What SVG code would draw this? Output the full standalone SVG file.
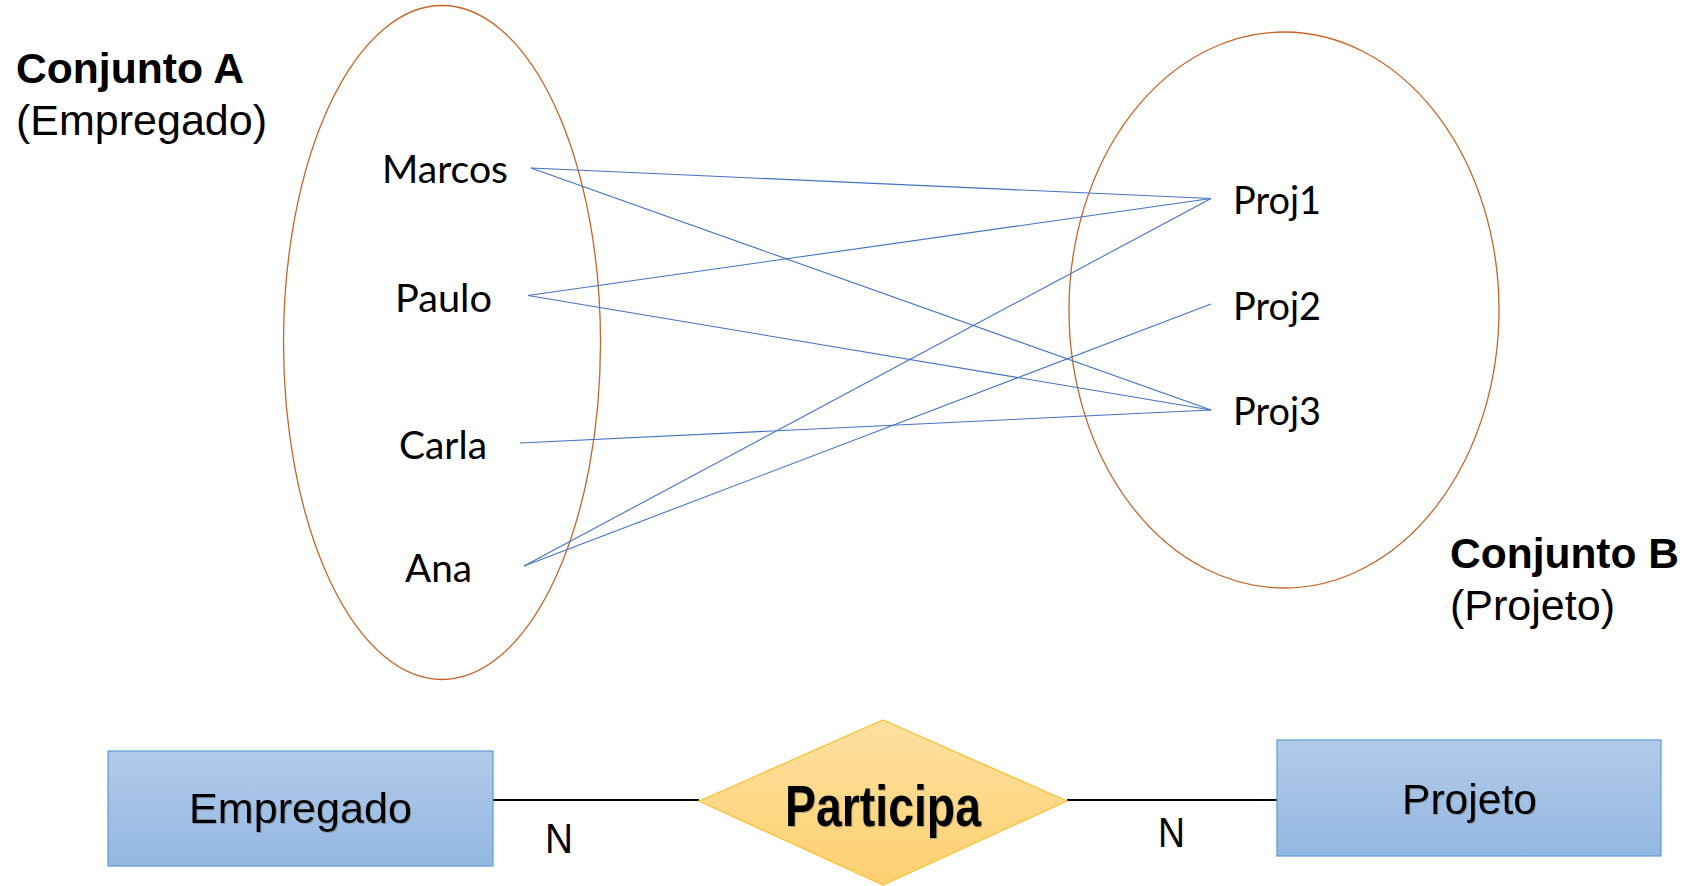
<svg xmlns="http://www.w3.org/2000/svg" width="1691" height="886" viewBox="0 0 1691 886">
<style>
.set{fill:none;stroke:#c8642a;stroke-width:1.3}
.lbl{font-family:"Liberation Sans",Arial,sans-serif;font-size:43px;fill:#000}
.b{font-weight:bold}
.el{font-family:Lato,"Open Sans",sans-serif;font-size:38px;fill:#000}
.link{stroke:#4472c4;stroke-width:1.1;fill:none}
.rel{stroke:#000;stroke-width:2;fill:none}
.ent{fill:url(#gBlue);stroke:#5b9bd5;stroke-width:1.2}
.er{font-family:"Liberation Sans",Arial,sans-serif;font-size:43px;fill:#000}
</style>
<defs>
<linearGradient id="gBlue" x1="0" y1="0" x2="0" y2="1">
<stop offset="0" stop-color="#b2cbe9"/>
<stop offset="1" stop-color="#93b7e2"/>
</linearGradient>
<linearGradient id="gGold" x1="0" y1="0" x2="0" y2="1">
<stop offset="0" stop-color="#fee0a0"/>
<stop offset="1" stop-color="#fdd070"/>
</linearGradient>
<filter id="sh" x="-10%" y="-20%" width="120%" height="140%">
<feDropShadow dx="1" dy="1" stdDeviation="0.7" flood-color="#555" flood-opacity="0.4"/>
</filter>
</defs>
<rect width="1691" height="886" fill="#fff"/>

<g id="setA">
<ellipse class="set" cx="442" cy="342.5" rx="158.5" ry="337"/>
<text class="lbl b" x="16" y="83" textLength="228" lengthAdjust="spacingAndGlyphs">Conjunto A</text>
<text class="lbl" x="16" y="135" textLength="251" lengthAdjust="spacingAndGlyphs">(Empregado)</text>
</g>
<g id="setB">
<ellipse class="set" cx="1284" cy="310" rx="215" ry="278"/>
<text class="lbl b" x="1450" y="568" textLength="229" lengthAdjust="spacingAndGlyphs">Conjunto B</text>
<text class="lbl" x="1450" y="620" textLength="165" lengthAdjust="spacingAndGlyphs">(Projeto)</text>
</g>

<g id="connectors">
<line class="link" x1="531" y1="168" x2="1211" y2="198.5"/>
<line class="link" x1="531" y1="168" x2="1211" y2="410"/>
<line class="link" x1="528" y1="295.5" x2="1211" y2="198.5"/>
<line class="link" x1="528" y1="295.5" x2="1211" y2="410"/>
<line class="link" x1="520" y1="443" x2="1211" y2="410"/>
<line class="link" x1="524" y1="566" x2="1211" y2="198.5"/>
<line class="link" x1="524" y1="566" x2="1211" y2="304"/>
<line class="rel" x1="493" y1="800" x2="699" y2="800"/>
<line class="rel" x1="1067" y1="800" x2="1277" y2="800"/>
</g>

<g id="marcos"><text class="el" x="382" y="183" textLength="126" lengthAdjust="spacingAndGlyphs">Marcos</text></g>
<g id="paulo"><text class="el" x="395" y="312" textLength="97" lengthAdjust="spacingAndGlyphs">Paulo</text></g>
<g id="carla"><text class="el" x="399" y="459" textLength="88" lengthAdjust="spacingAndGlyphs">Carla</text></g>
<g id="ana"><text class="el" x="405" y="582" textLength="67" lengthAdjust="spacingAndGlyphs">Ana</text></g>
<g id="proj1"><text class="el" x="1233" y="214" textLength="88" lengthAdjust="spacingAndGlyphs">Proj1</text></g>
<g id="proj2"><text class="el" x="1233" y="320" textLength="88" lengthAdjust="spacingAndGlyphs">Proj2</text></g>
<g id="proj3"><text class="el" x="1233" y="425" textLength="88" lengthAdjust="spacingAndGlyphs">Proj3</text></g>

<g id="empregado">
<rect class="ent" x="108" y="751" width="385" height="115"/>
<text class="er" x="300.5" y="823" text-anchor="middle" textLength="223" lengthAdjust="spacingAndGlyphs" filter="url(#sh)">Empregado</text>
</g>
<g id="participa">
<polygon points="699,801 883,720 1067,801 883,885" fill="url(#gGold)" stroke="#fbc233" stroke-width="1.3"/>
<text x="785" y="826" font-family="'Liberation Sans',Arial,sans-serif" font-weight="bold" font-size="58" textLength="196" lengthAdjust="spacingAndGlyphs" filter="url(#sh)">Participa</text>
</g>
<g id="projeto">
<rect class="ent" x="1277" y="740" width="384" height="116"/>
<text class="er" x="1469.5" y="814" text-anchor="middle" textLength="135" lengthAdjust="spacingAndGlyphs" filter="url(#sh)">Projeto</text>
</g>
<g id="cardinalities">
<text class="er" x="545" y="853" font-size="40" textLength="28" lengthAdjust="spacingAndGlyphs">N</text>
<text class="er" x="1158" y="847" font-size="40" textLength="27" lengthAdjust="spacingAndGlyphs">N</text>
</g>
</svg>
